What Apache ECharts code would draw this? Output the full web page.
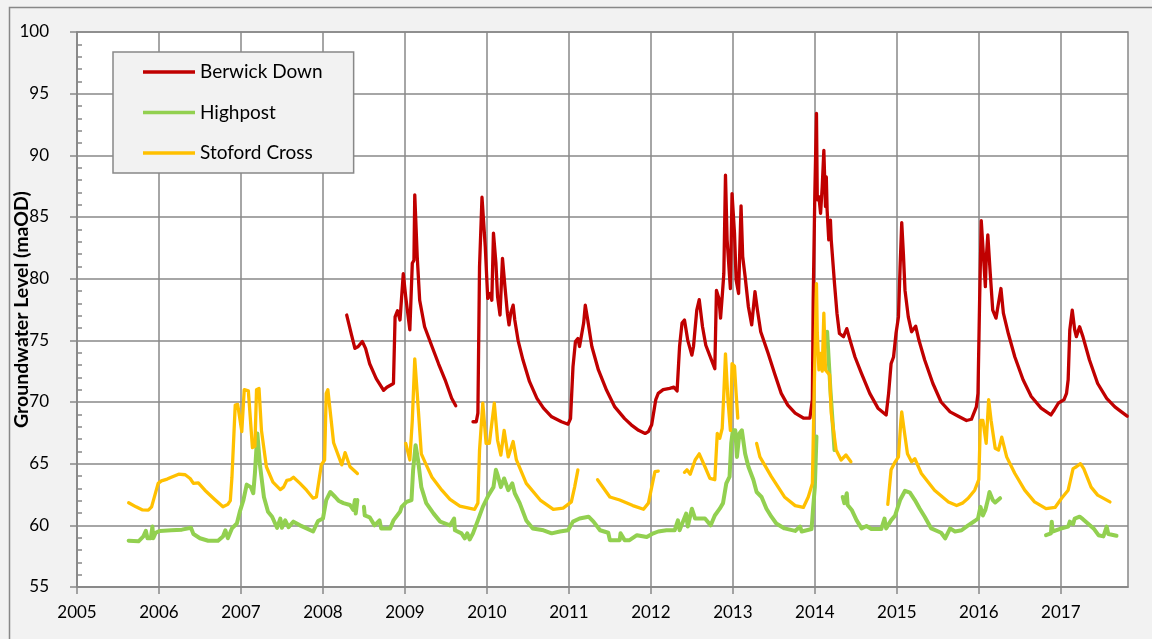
<!DOCTYPE html>
<html>
<head>
<meta charset="utf-8">
<script src="https://cdn.jsdelivr.net/npm/echarts@6/dist/echarts.min.js"></script>
<style>
html,body{margin:0;padding:0;background:#f2f2f2;}
#chart{width:1152px;height:639px;}
</style>
</head>
<body>
<div id="chart"></div>
<script>
// ---- Data (decimal year, groundwater level in maOD); null = gap in record ----
const yearTicks = [2005,2006,2007,2008,2009,2010,2011,2012,2013,2014,2015,2016,2017];
const seriesNames = ['Berwick Down','Highpost','Stoford Cross'];

const berwickDown = [
[2008.29,77.05],[2008.35,75.4],[2008.39,74.35],[2008.43,74.5],[2008.48,74.9],[2008.52,74.35],[2008.57,73.1],[2008.65,71.9],[2008.74,70.95],[2008.78,71.2],[2008.86,71.5],[2008.88,76.9],[2008.91,77.4],[2008.94,76.65],[2008.98,80.4],[2009.01,78.5],[2009.06,75.85],[2009.09,81.25],[2009.11,81.5],[2009.12,86.8],[2009.15,81.8],[2009.18,78.25],[2009.24,76.1],[2009.33,74.5],[2009.41,73.1],[2009.49,71.8],[2009.57,70.3],[2009.62,69.7],
[2009.7,null],
[2009.83,68.4],[2009.87,68.4],[2009.89,69.1],[2009.91,80.95],[2009.94,86.6],[2009.98,82.6],[2010.01,78.4],[2010.04,78.8],[2010.06,78.25],[2010.08,83.7],[2010.11,81.25],[2010.13,78.55],[2010.16,77.05],[2010.19,81.65],[2010.22,79.35],[2010.25,77.2],[2010.27,76.25],[2010.29,77.2],[2010.32,77.85],[2010.34,76.65],[2010.38,75.0],[2010.44,73.4],[2010.52,71.65],[2010.61,70.3],[2010.69,69.5],[2010.79,68.8],[2010.91,68.4],[2010.99,68.2],[2011.02,68.65],[2011.05,72.85],[2011.08,74.9],[2011.11,75.15],[2011.13,74.5],[2011.18,76.4],[2011.20,77.85],[2011.23,76.65],[2011.28,74.5],[2011.36,72.6],[2011.46,70.95],[2011.56,69.6],[2011.68,68.65],[2011.76,68.15],[2011.85,67.7],[2011.93,67.45],[2011.97,67.6],[2012.01,68.15],[2012.06,70.2],[2012.09,70.7],[2012.15,71.0],[2012.23,71.1],[2012.28,71.2],[2012.32,70.9],[2012.35,74.5],[2012.38,76.4],[2012.41,76.65],[2012.45,75.0],[2012.50,73.8],[2012.52,74.5],[2012.56,77.45],[2012.59,78.3],[2012.63,76.1],[2012.67,74.6],[2012.74,73.4],[2012.78,72.7],[2012.80,79.05],[2012.83,78.4],[2012.85,76.8],[2012.87,78.55],[2012.89,80.4],[2012.91,88.4],[2012.93,83.15],[2012.97,79.2],[2012.99,86.9],[2013.02,83.7],[2013.04,79.9],[2013.07,78.8],[2013.10,85.9],[2013.12,81.8],[2013.15,80.15],[2013.19,77.7],[2013.23,76.25],[2013.27,78.95],[2013.30,77.45],[2013.34,75.7],[2013.43,73.95],[2013.51,72.3],[2013.59,70.7],[2013.67,69.75],[2013.76,69.1],[2013.86,68.7],[2013.94,68.7],[2013.97,70.2],[2013.98,78.25],[2014.00,86.9],[2014.02,93.4],[2014.03,86.4],[2014.05,86.65],[2014.07,85.3],[2014.09,87.45],[2014.11,90.4],[2014.13,85.85],[2014.14,88.25],[2014.15,85.55],[2014.17,83.15],[2014.19,84.75],[2014.20,83.15],[2014.24,79.6],[2014.27,77.2],[2014.30,75.55],[2014.35,75.3],[2014.39,75.95],[2014.43,75.0],[2014.49,73.65],[2014.57,72.3],[2014.67,70.7],[2014.77,69.5],[2014.87,68.95],[2014.90,70.7],[2014.93,73.1],[2014.96,73.65],[2014.99,75.55],[2015.02,76.9],[2015.04,80.95],[2015.06,84.55],[2015.08,82.05],[2015.10,79.05],[2015.14,76.9],[2015.18,75.7],[2015.23,76.15],[2015.27,75.0],[2015.34,73.4],[2015.44,71.5],[2015.54,70.0],[2015.65,69.2],[2015.75,68.85],[2015.85,68.5],[2015.91,68.6],[2015.97,69.6],[2015.99,70.7],[2016.01,78.25],[2016.03,84.7],[2016.06,81.5],[2016.08,79.35],[2016.09,81.5],[2016.11,83.55],[2016.14,80.4],[2016.17,77.45],[2016.21,76.8],[2016.24,78.0],[2016.27,79.2],[2016.30,77.2],[2016.36,75.55],[2016.44,73.65],[2016.54,71.8],[2016.64,70.45],[2016.76,69.5],[2016.88,68.95],[2016.92,69.35],[2016.97,69.9],[2017.04,70.2],[2017.07,70.7],[2017.09,71.8],[2017.11,75.85],[2017.14,77.45],[2017.17,75.85],[2017.19,75.3],[2017.23,76.1],[2017.27,75.3],[2017.35,73.4],[2017.45,71.5],[2017.56,70.3],[2017.66,69.6],[2017.74,69.2],[2017.81,68.85]
];

const highpost = [
[2005.63,58.75],[2005.75,58.7],[2005.81,59.1],[2005.84,59.55],[2005.86,58.95],[2005.90,58.95],[2005.92,59.9],[2005.93,58.95],[2005.96,59.4],[2006.01,59.55],[2006.15,59.6],[2006.28,59.65],[2006.39,59.8],[2006.42,59.3],[2006.50,58.95],[2006.60,58.75],[2006.72,58.75],[2006.78,59.1],[2006.81,59.6],[2006.84,58.95],[2006.89,59.75],[2006.95,60.15],[2006.99,61.2],[2007.03,62.05],[2007.07,63.3],[2007.12,63.1],[2007.15,62.6],[2007.17,64.2],[2007.20,67.45],[2007.23,65.0],[2007.28,62.3],[2007.33,61.1],[2007.38,60.7],[2007.44,59.8],[2007.48,60.55],[2007.50,59.8],[2007.54,60.4],[2007.58,59.85],[2007.64,60.3],[2007.72,60.0],[2007.80,59.75],[2007.88,59.5],[2007.94,60.35],[2008.00,60.55],[2008.04,62.05],[2008.09,62.7],[2008.15,62.3],[2008.19,62.0],[2008.25,61.8],[2008.33,61.65],[2008.37,61.25],[2008.39,62.05],[2008.40,60.95],[2008.42,62.05],
[2008.46,null],
[2008.50,61.5],[2008.51,60.8],[2008.57,60.65],[2008.63,60.0],[2008.69,60.4],[2008.71,59.75],[2008.82,59.75],[2008.86,60.4],[2008.94,61.1],[2008.96,61.5],[2009.02,61.9],[2009.08,62.05],[2009.10,64.5],[2009.13,66.5],[2009.16,65.3],[2009.20,63.1],[2009.26,61.8],[2009.35,60.95],[2009.43,60.3],[2009.55,60.0],[2009.60,60.55],[2009.61,59.6],[2009.69,59.35],[2009.73,58.95],[2009.76,59.35],[2009.79,58.85],[2009.83,59.35],[2009.89,60.4],[2009.95,61.5],[2010.02,62.45],[2010.08,63.1],[2010.11,64.5],[2010.13,64.1],[2010.17,63.1],[2010.21,63.8],[2010.26,62.85],[2010.31,63.4],[2010.34,62.6],[2010.40,61.8],[2010.48,60.4],[2010.56,59.75],[2010.69,59.6],[2010.79,59.35],[2010.89,59.5],[2010.99,59.6],[2011.05,60.3],[2011.13,60.55],[2011.24,60.7],[2011.30,60.3],[2011.38,59.6],[2011.48,59.4],[2011.50,58.8],[2011.62,58.8],[2011.63,59.35],[2011.68,58.8],[2011.74,58.8],[2011.83,59.2],[2011.95,59.05],[2012.03,59.35],[2012.09,59.5],[2012.19,59.6],[2012.29,59.6],[2012.33,60.4],[2012.35,59.6],[2012.43,60.95],[2012.45,59.9],[2012.50,61.35],[2012.54,60.55],[2012.66,60.55],[2012.73,60.0],[2012.78,60.8],[2012.84,61.35],[2012.88,61.8],[2012.92,63.4],[2012.96,63.95],[2012.98,66.65],[2013.00,67.7],[2013.03,67.7],[2013.05,65.55],[2013.08,67.45],[2013.11,67.7],[2013.15,65.8],[2013.19,64.75],[2013.25,63.7],[2013.29,62.7],[2013.35,62.3],[2013.41,61.35],[2013.47,60.7],[2013.53,60.15],[2013.63,59.75],[2013.76,59.55],[2013.82,59.9],[2013.84,59.5],[2013.96,59.7],[2013.98,61.5],[2014.00,63.1],[2014.02,67.2],
[2014.08,null],
[2014.15,75.7],[2014.19,71.0],[2014.24,66.1],
[2014.30,null],
[2014.34,62.3],[2014.36,61.8],[2014.39,62.6],[2014.40,61.65],[2014.45,61.25],[2014.51,60.4],[2014.57,59.75],[2014.63,59.95],[2014.69,59.7],[2014.81,59.7],[2014.85,60.55],[2014.87,59.75],[2014.93,60.4],[2014.98,60.8],[2015.04,62.05],[2015.10,62.8],[2015.16,62.65],[2015.22,62.05],[2015.28,61.35],[2015.34,60.7],[2015.42,59.75],[2015.54,59.4],[2015.59,58.95],[2015.65,59.75],[2015.71,59.5],[2015.79,59.6],[2015.87,60.0],[2015.95,60.35],[2015.99,60.55],[2016.02,61.5],[2016.05,60.8],[2016.08,61.25],[2016.11,62.05],[2016.13,62.7],[2016.17,62.05],[2016.20,61.85],[2016.26,62.2],
[2016.5,null],
[2016.82,59.2],[2016.88,59.35],[2016.89,60.3],[2016.90,59.5],[2017.01,59.75],[2017.09,59.9],[2017.11,60.3],[2017.15,60.1],[2017.17,60.55],[2017.23,60.7],[2017.27,60.5],[2017.33,60.15],[2017.40,59.75],[2017.46,59.2],[2017.52,59.1],[2017.56,59.9],[2017.58,59.3],[2017.68,59.15]
];

const stofordCross = [
[2005.63,61.83],[2005.72,61.5],[2005.80,61.25],[2005.87,61.23],[2005.91,61.5],[2005.99,63.4],[2006.03,63.6],[2006.10,63.75],[2006.15,63.9],[2006.24,64.15],[2006.32,64.1],[2006.38,63.8],[2006.42,63.4],[2006.48,63.45],[2006.56,62.85],[2006.68,62.1],[2006.78,61.5],[2006.84,61.7],[2006.87,62.0],[2006.89,63.9],[2006.93,69.75],[2006.96,69.8],[2007.01,67.6],[2007.04,71.0],[2007.09,70.9],[2007.14,66.3],[2007.17,66.4],[2007.19,71.0],[2007.22,71.1],[2007.25,67.7],[2007.31,64.75],[2007.39,63.5],[2007.48,62.9],[2007.52,63.1],[2007.56,63.65],[2007.60,63.7],[2007.64,63.9],[2007.72,63.4],[2007.80,62.85],[2007.88,62.2],[2007.92,62.3],[2007.98,64.9],[2008.02,65.3],[2008.04,70.7],[2008.06,71.0],[2008.13,66.7],[2008.23,64.9],[2008.27,65.9],[2008.33,64.75],[2008.42,64.2],
[2008.6,null],
[2009.01,66.65],[2009.06,65.3],[2009.09,68.5],[2009.12,73.5],[2009.15,70.7],[2009.20,65.8],[2009.26,64.9],[2009.33,63.9],[2009.45,62.85],[2009.55,62.1],[2009.67,61.55],[2009.85,61.3],[2009.89,61.8],[2009.91,66.1],[2009.95,69.9],[2009.99,66.65],[2010.03,66.65],[2010.09,69.9],[2010.13,66.9],[2010.17,65.7],[2010.21,67.7],[2010.26,65.55],[2010.32,66.8],[2010.36,65.3],[2010.48,63.4],[2010.65,62.05],[2010.81,61.3],[2010.93,61.4],[2011.03,61.9],[2011.07,63.1],[2011.11,64.5],
[2011.2,null],
[2011.35,63.7],[2011.50,62.3],[2011.62,62.05],[2011.78,61.6],[2011.91,61.3],[2011.97,61.8],[2012.01,63.1],[2012.05,64.35],[2012.09,64.4],
[2012.25,null],
[2012.41,64.3],[2012.44,64.5],[2012.48,64.15],[2012.54,65.3],[2012.59,65.8],[2012.66,64.75],[2012.72,63.8],[2012.78,63.7],[2012.81,67.45],[2012.84,67.05],[2012.87,67.85],[2012.89,70.7],[2012.91,73.9],[2012.94,70.2],[2012.97,67.7],[2012.99,73.1],[2013.02,72.9],[2013.04,70.7],[2013.06,68.7],
[2013.18,null],
[2013.29,66.65],[2013.33,65.55],[2013.47,63.95],[2013.63,62.3],[2013.76,61.6],[2013.86,61.45],[2013.92,62.3],[2013.97,63.4],[2013.99,70.2],[2014.02,79.6],[2014.03,75.6],[2014.05,72.6],[2014.07,73.95],[2014.09,72.5],[2014.11,77.2],[2014.13,72.6],[2014.18,72.2],[2014.20,69.1],[2014.26,66.1],[2014.32,65.3],[2014.38,65.7],[2014.44,65.15],
[2014.7,null],
[2014.89,61.7],[2014.93,64.5],[2014.98,65.15],[2015.02,65.55],[2015.05,68.5],[2015.06,69.2],[2015.09,67.7],[2015.13,65.8],[2015.18,65.15],[2015.22,65.4],[2015.30,64.2],[2015.46,62.85],[2015.63,61.9],[2015.73,61.6],[2015.80,61.8],[2015.87,62.2],[2015.95,62.85],[2016.00,63.7],[2016.02,68.5],[2016.05,68.5],[2016.09,66.65],[2016.12,70.2],[2016.15,68.5],[2016.20,66.25],[2016.24,66.1],[2016.28,67.15],[2016.34,65.55],[2016.44,64.2],[2016.56,62.85],[2016.68,61.9],[2016.82,61.35],[2016.93,61.45],[2017.01,62.2],[2017.09,62.85],[2017.15,64.6],[2017.19,64.75],[2017.24,65.0],[2017.28,64.6],[2017.37,63.1],[2017.45,62.45],[2017.60,61.9]
];

const seriesColors = ['#c00000','#92d050','#ffc000'];

// ---- Chart ----
const FONT = 'Lato, "Liberation Sans", sans-serif';
const GRID = {left:77, top:32, right:24, bottom:52};
const gridWidth = 1152 - GRID.left - GRID.right;
const gridColor = '#888888';

const chart = echarts.init(document.getElementById('chart'), null, {renderer:'canvas'});
chart.setOption({
  animation:false,
  backgroundColor:'#f2f2f2',
  textStyle:{fontFamily:FONT},
  graphic:[{
    type:'rect', left:7, top:5, z:-10, silent:true,
    shape:{x:0,y:0,width:1200,height:700},
    style:{fill:'none', stroke:'#888888', lineWidth:1.5}
  }],
  grid:{left:GRID.left, top:GRID.top, right:GRID.right, bottom:GRID.bottom,
        containLabel:false, outerBoundsMode:'none',
        show:true, backgroundColor:'#ffffff', borderColor:gridColor, borderWidth:1.5},
  legend:{
    orient:'vertical', left:113, top:52,
    data:seriesNames,
    icon:'rect',
    backgroundColor:'#f2f2f2', borderColor:gridColor, borderWidth:1.5,
    padding:[10,31,10,30], itemWidth:52, itemHeight:3.5, itemGap:20.5,
    textStyle:{fontFamily:FONT, fontSize:19, color:'#000', lineHeight:20}
  },
  xAxis:{
    type:'value', min:2005, max:2017.82, interval:1,
    axisLine:{show:true, lineStyle:{color:gridColor, width:1.5}},
    axisTick:{show:true, length:7, customValues:yearTicks, lineStyle:{color:gridColor, width:1.5}},
    axisLabel:{customValues:yearTicks, margin:17, fontSize:17, color:'#000', fontFamily:FONT,
      formatter:function(v){return Number.isInteger(v)?String(v):'';}},
    splitLine:{show:true, lineStyle:{color:gridColor, width:1.5}}
  },
  yAxis:[{
    type:'value', min:55, max:100, interval:5,
    name:'Groundwater Level (maOD)', nameLocation:'middle', nameGap:45, nameMoveOverlap:false,
    nameTextStyle:{fontFamily:FONT, fontWeight:'bold', fontSize:19.5, color:'#000'},
    axisLine:{show:true, lineStyle:{color:gridColor, width:1.5}},
    axisTick:{show:true, length:7, lineStyle:{color:gridColor, width:1.5}},
    axisLabel:{margin:28, fontSize:17, color:'#000', fontFamily:FONT},
    splitLine:{show:true, lineStyle:{color:gridColor, width:1.5}}
  },{
    type:'value', min:55, max:100, interval:5, position:'right', offset:-gridWidth,
    axisLine:{show:false}, axisTick:{show:false}, axisLabel:{show:false}, splitLine:{show:false},
    minorTick:{show:true, splitNumber:5, length:5, lineStyle:{color:gridColor, width:1.5}}
  }],
  series:[
    {name:seriesNames[0], type:'line', data:berwickDown, yAxisIndex:0, showSymbol:false, symbol:'none',
     connectNulls:false, color:seriesColors[0], lineStyle:{width:3.3, color:seriesColors[0], join:'round', cap:'round'}, z:3},
    {name:seriesNames[1], type:'line', data:highpost, yAxisIndex:0, showSymbol:false, symbol:'none',
     connectNulls:false, color:seriesColors[1], lineStyle:{width:4, color:seriesColors[1], join:'round', cap:'round'}, z:4},
    {name:seriesNames[2], type:'line', data:stofordCross, yAxisIndex:0, showSymbol:false, symbol:'none',
     connectNulls:false, color:seriesColors[2], lineStyle:{width:3.3, color:seriesColors[2], join:'round', cap:'round'}, z:5}
  ]
});
</script>
</body>
</html>
